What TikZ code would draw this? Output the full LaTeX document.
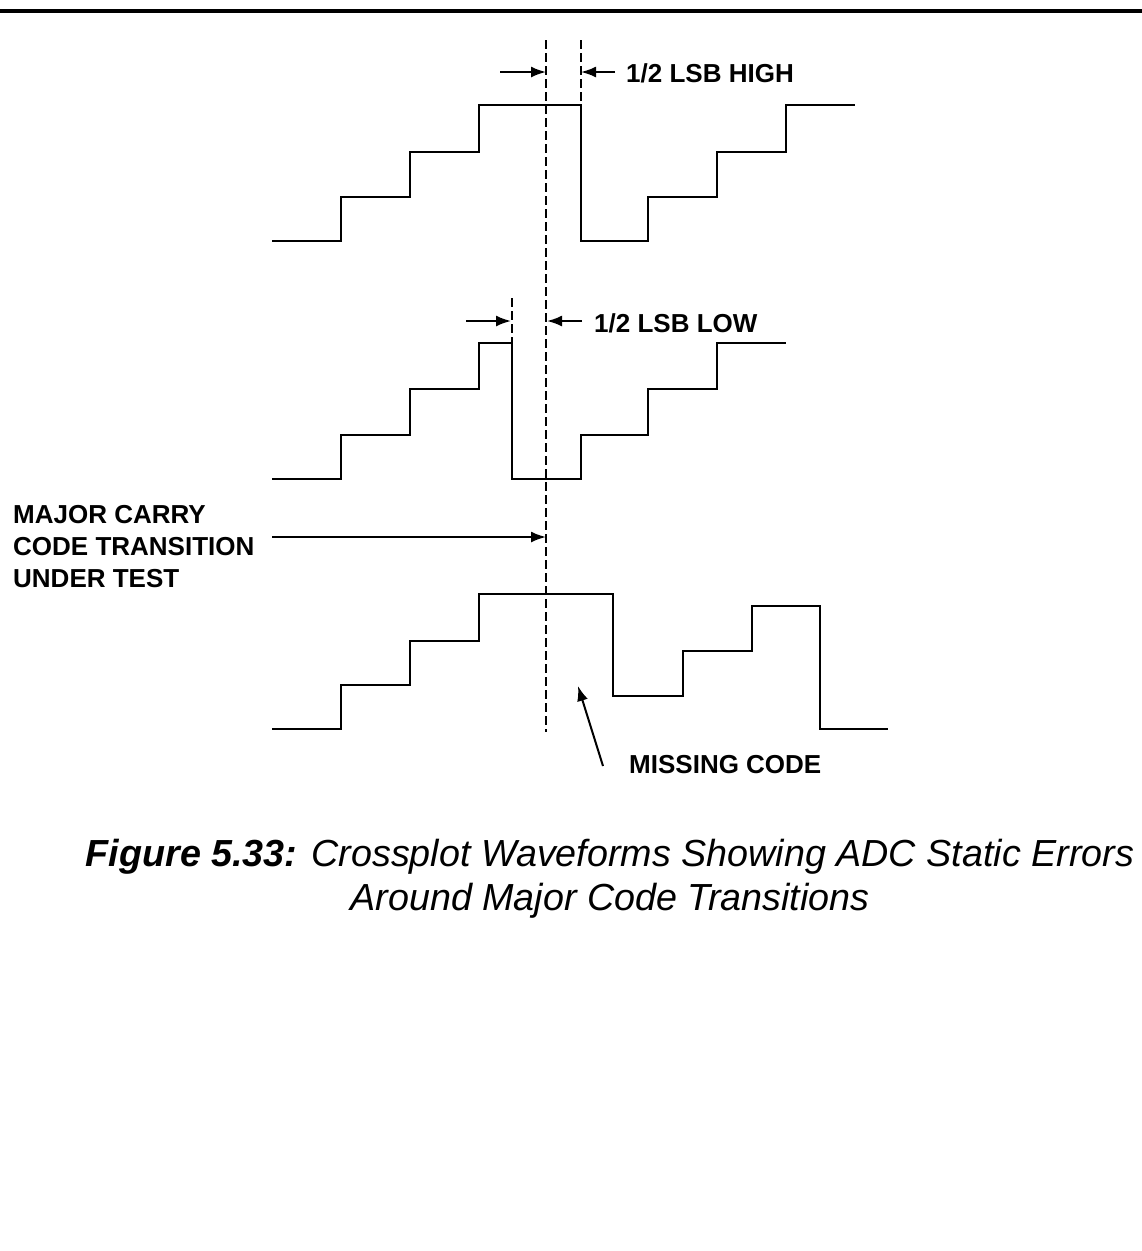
\documentclass[tikz,border=0pt]{standalone}
\usepackage{fontspec}
\setmainfont{Liberation Sans}
\usetikzlibrary{arrows.meta}

\begin{document}
\begin{tikzpicture}[x=1pt,y=-1pt,>={Latex[length=15pt,width=11pt]},
  wave/.style={line width=2.4pt,line join=miter},
  guide/.style={line width=1.6pt,dash pattern=on 9pt off 4pt},
  pointer/.style={->,line width=2pt},
  lbl/.style={font=\fontsize{26}{32}\selectfont\bfseries,inner sep=0pt}]
  \useasboundingbox (0,0) rectangle (1142,1251);
  \draw[line width=3.5pt] (0,11) -- (1142,11);

  \draw[wave] (272,241) -| (341,197) -| (410,152) -| (479,105) -| (581,241) -| (648,197) -| (717,152) -| (786,105) -- (855,105);
  \draw[wave] (272,479) -| (341,435) -| (410,389) -| (479,343) -| (512,479) -| (581,435) -| (648,389) -| (717,343) -- (786,343);
  \draw[wave] (272,729) -| (341,685) -| (410,641) -| (479,594) -| (613,696) -| (683,651) -| (752,606) -| (820,729) -- (888,729);

  \draw[guide] (546,40) -- (546,732);
  \draw[guide] (581,40) -- (581,105);
  \draw[guide] (512,298) -- (512,343);

  \node[lbl,anchor=base west] (high) at (626,82) {1/2 LSB HIGH};
  \coordinate (highA) at (500,72);
  \coordinate (highB) at (546,72);
  \coordinate (highC) at (615,72);
  \coordinate (highD) at (581,72);
  \draw[pointer] (highA) -- (highB);
  \draw[pointer] (highC) -- (highD);

  \node[lbl,anchor=base west] (low) at (594,332) {1/2 LSB LOW};
  \coordinate (lowA) at (466,321);
  \coordinate (lowB) at (511,321);
  \coordinate (lowC) at (582,321);
  \coordinate (lowD) at (547,321);
  \draw[pointer] (lowA) -- (lowB);
  \draw[pointer] (lowC) -- (lowD);

  \node[lbl,anchor=base west,align=left] (carry) at (13,587) {MAJOR CARRY\\CODE TRANSITION\\UNDER TEST};
  \coordinate (carryA) at (272,537);
  \coordinate (carryB) at (546,537);
  \draw[pointer] (carryA) -- (carryB);

  \node[lbl,anchor=base west] (missing) at (629,773) {MISSING CODE};
  \coordinate (missA) at (603,766);
  \coordinate (missB) at (578,686);
  \draw[pointer] (missA) -- (missB);

  \node[anchor=base,align=center,inner sep=0pt,font=\fontsize{37.7}{44}\selectfont\itshape] (caption) at (610,910)
    {{\bfseries Figure 5.33:} Crossplot Waveforms Showing ADC Static Errors\\Around Major Code Transitions};
\end{tikzpicture}
\end{document}
